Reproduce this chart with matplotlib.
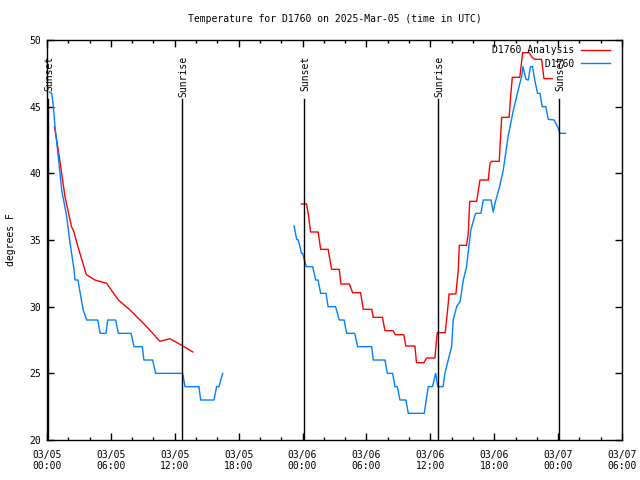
import numpy as np
import matplotlib
matplotlib.use('Agg')
import matplotlib.pyplot as plt

# hours since 03/05 00:00 UTC; NaN splits the two data gaps
analysis_hours = [0.7, 1.06, 1.69, 2.3, 2.47, 2.94, 3.66, 3.7, 4.5, 5.6, 6.7, 7.8, 9.36, 10.6,
                  11.55, 12.65, 13.7,
                  np.nan,
                  23.9, 24.38, 24.6, 24.75, 25.47, 25.7, 26.4, 26.73, 27.45, 27.6, 28.4, 28.7,
                  29.45, 29.7, 30.5, 30.64, 31.5, 31.74, 32.5, 32.7, 33.5, 33.7, 34.55, 34.7,
                  35.4, 35.65, 36.43, 36.65, 37.4, 37.7, 37.75, 38.4, 38.62, 38.72, 39.4, 39.56,
                  39.7, 40.35, 40.66, 41.44, 41.6, 41.75, 42.47, 42.63, 42.7, 43.4, 43.54, 43.7,
                  44.4, 44.67, 45.3, 45.5, 45.8, 46.45, 46.67, 47.45]
analysis_temp = [43.5, 41.75, 38.25, 36.0, 35.75, 34.4, 32.5, 32.4, 32.0, 31.75, 30.5, 29.75, 28.5, 27.4,
                 27.6, 27.1, 26.6,
                 np.nan,
                 37.7, 37.7, 36.6, 35.6, 35.6, 34.3, 34.3, 32.8, 32.8, 31.7, 31.7, 31.05,
                 31.05, 29.8, 29.8, 29.2, 29.2, 28.2, 28.2, 27.9, 27.9, 27.05, 27.05, 25.8,
                 25.8, 26.15, 26.15, 28.05, 28.05, 30.4, 30.95, 30.95, 32.75, 34.6, 34.6, 35.5,
                 37.9, 37.9, 39.5, 39.5, 40.75, 40.9, 40.9, 43.25, 44.2, 44.2, 45.75, 47.2,
                 47.2, 49.05, 49.05, 48.75, 48.55, 48.55, 47.1, 47.1]

obs_hours = [0.22, 0.45, 0.6, 0.75, 1.06, 1.38, 1.85, 2.16, 2.54, 2.63, 2.9, 3.4, 3.72, 4.76, 5.0,
             5.54, 5.7, 6.45, 6.7, 7.9, 8.17, 8.95, 9.1, 9.92, 10.2, 12.74, 12.96, 14.27, 14.43,
             15.68, 15.93, 16.15, 16.5,
             np.nan,
             23.2, 23.45, 23.6, 23.9, 24.0, 24.35, 24.44, 24.95, 25.23, 25.45, 25.7, 26.2, 26.4,
             27.1, 27.45, 27.9, 28.14, 28.9, 29.17, 30.5, 30.64, 31.74, 31.96, 32.46, 32.68,
             32.9, 33.15, 33.7, 33.93, 35.43, 35.8, 36.2, 36.5, 36.7, 37.2, 37.37, 37.68, 38.0,
             38.15, 38.47, 38.8, 39.1, 39.4, 39.8, 40.25, 40.75, 40.97, 41.7, 41.9, 42.07, 42.5,
             42.85, 43.3, 43.8, 44.25, 44.57, 44.7, 44.98, 45.2, 45.4, 45.6, 45.8, 46.07, 46.3,
             46.5, 46.85, 47.07, 47.63, 48.0, 48.17, 48.7]
obs_temp = [46.1, 46.0, 45.0, 43.5, 41.25, 38.75, 36.75, 34.8, 32.75, 32.0, 32.0, 29.75, 29.0, 29.0, 28.0,
            28.0, 29.0, 29.0, 28.0, 28.0, 27.0, 27.0, 26.0, 26.0, 25.0, 25.0, 24.0, 24.0, 23.0,
            23.0, 24.0, 24.0, 25.0,
            np.nan,
            36.05, 35.05, 35.0, 34.0, 34.0, 33.0, 33.0, 33.0, 32.0, 32.0, 31.0, 31.0, 30.0,
            30.0, 29.0, 29.0, 28.0, 28.0, 27.0, 27.0, 26.0, 26.0, 25.0, 25.0, 24.0,
            24.0, 23.0, 23.0, 22.0, 22.0, 24.0, 24.0, 25.0, 24.0, 24.0, 25.0, 26.0, 27.0,
            29.0, 30.0, 30.4, 32.0, 33.0, 35.75, 37.0, 37.0, 38.0, 38.0, 37.1, 37.75, 39.0,
            40.25, 42.75, 44.75, 46.25, 47.25, 48.0, 47.05, 47.0, 48.0, 48.0, 47.0, 46.0, 46.0,
            45.0, 45.0, 44.05, 44.0, 43.4, 43.0, 43.0]

sun_hours = [0.12, 12.7, 24.13, 36.74, 48.1]
sun_labels = ['Sunset', 'Sunrise', 'Sunset', 'Sunrise', 'Sunset']

tick_hours = [0, 6, 12, 18, 24, 30, 36, 42, 48, 54]
tick_labels = ['03/05\n00:00', '03/05\n06:00', '03/05\n12:00', '03/05\n18:00',
               '03/06\n00:00', '03/06\n06:00', '03/06\n12:00', '03/06\n18:00',
               '03/07\n00:00', '03/07\n06:00']

plt.rcParams['font.family'] = 'DejaVu Sans Mono'
plt.rcParams['font.size'] = 7

fig = plt.figure(figsize=(6.4, 4.8), dpi=100)
ax = fig.add_axes([47 / 640, 40 / 480, 575 / 640, 400 / 480])

ax.plot(analysis_hours, analysis_temp, color='#ff0000', lw=1.0, label='D1760 Analysis')
ax.plot(obs_hours, obs_temp, color='#0080ff', lw=1.0, label='{:>14}'.format('D1760'))

for h, lab in zip(sun_hours, sun_labels):
    ax.axvline(h, ymin=0, ymax=0.8525, color='black', lw=1.0)
    ax.text(h + 0.1, 0.96, lab, rotation=90, ha='center', va='top',
            transform=ax.get_xaxis_transform())

ax.set_xlim(0, 54)
ax.set_ylim(20, 50)
ax.set_xticks(tick_hours)
ax.set_xticklabels(tick_labels)
ax.set_xticks(np.arange(0, 55, 2), minor=True)
ax.set_yticks([20, 25, 30, 35, 40, 45, 50])
ax.tick_params(which='both', direction='in', top=True, right=True, width=1.0)
ax.tick_params(which='major', length=5, pad=4)
ax.tick_params(axis='x', which='major', pad=7)
ax.tick_params(which='minor', length=2.5)
for s in ax.spines.values():
    s.set_linewidth(1.0)

ax.set_ylabel('degrees F', labelpad=10)
ax.set_title('Temperature for D1760 on 2025-Mar-05 (time in UTC)', fontsize=7, pad=13)

ax.legend(loc='upper right', bbox_to_anchor=(0.979, 0.987), frameon=False, markerfirst=False,
          borderpad=0, borderaxespad=0, handlelength=3.0, handletextpad=0.7, labelspacing=0.35)

plt.savefig('out.png', dpi=100)
plt.close()
